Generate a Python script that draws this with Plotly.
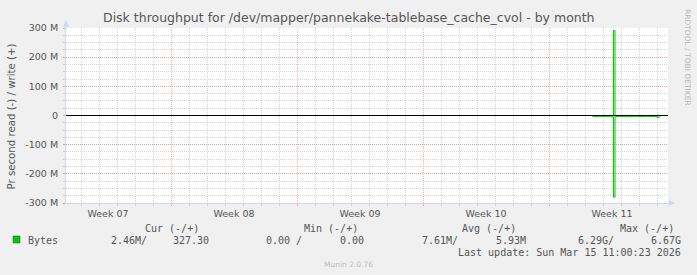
import plotly.graph_objects as go

# ---------------- data ----------------
TITLE = "Disk throughput for /dev/mapper/pannekake-tablebase_cache_cvol - by month"
Y_TITLE = "Pr second read (-) / write (+)"

times = [
    "2026-03-11 10:00", "2026-03-11 16:00", "2026-03-11 22:00", "2026-03-12 04:00",
    "2026-03-12 10:00", "2026-03-12 14:00", "2026-03-12 16:00", "2026-03-12 22:00",
    "2026-03-13 04:00", "2026-03-13 10:00", "2026-03-13 16:00", "2026-03-13 22:00",
    "2026-03-14 04:00", "2026-03-14 10:00", "2026-03-14 16:00", "2026-03-14 22:00",
    "2026-03-15 00:00", "2026-03-15 02:00", "2026-03-15 04:00",
]
# read (plotted negative) and write (positive), bytes per second
read_bps = [
    -3.6e6, -3.9e6, -3.4e6, -3.8e6,
    -4.0e6, -280e6, -3.7e6, -3.5e6,
    -3.9e6, -3.6e6, -3.8e6, -3.4e6,
    -3.7e6, -3.9e6, -3.5e6, -3.6e6,
    -7.5e6, -4.2e6, -3.0e6,
]
write_bps = [
    0.2e6, 0.1e6, 0.3e6, 0.2e6,
    0.1e6, 292e6, 0.2e6, 0.1e6,
    0.2e6, 0.3e6, 0.1e6, 0.2e6,
    0.1e6, 0.2e6, 0.3e6, 0.1e6,
    0.2e6, 0.1e6, 0.0,
]

y_tick_vals = [-300e6, -200e6, -100e6, 0, 100e6, 200e6, 300e6]
y_tick_text = ["-300 M", "-200 M", "-100 M", "0", "100 M", "200 M", "300 M"]

week_tick_vals = ["2026-02-12 12:00", "2026-02-19 12:00", "2026-02-26 12:00",
                  "2026-03-05 12:00", "2026-03-12 12:00"]
week_tick_text = ["Week 07", "Week 08", "Week 09", "Week 10", "Week 11"]

x_range = ["2026-02-10 04:00", "2026-03-15 14:40"]
week_start = "2026-02-09"

series_name = "Bytes"
legend_headers = ["Cur (-/+)", "Min (-/+)", "Avg (-/+)", "Max (-/+)"]
legend_values = ["2.46M/", "327.30", "0.00 /", "0.00", "7.61M/", "5.93M", "6.29G/", "6.67G"]
last_update = "Last update: Sun Mar 15 11:00:23 2026"
footer = "Munin 2.0.76"
side_text = "RRDTOOL / TOBI OETIKER"

# ---------------- layout geometry ----------------
W, H = 697, 275
L, R, T, B = 66, 29, 28, 72
PW, PH = W - L - R, H - T - B


def px(x):
    return (x - L) / PW


def py(y):
    return (H - B - y) / PH


GREEN = "#00cc00"
AXIS = "#CFD6F8"
FONT_C = "#555555"
MINOR = "rgba(150,150,150,0.38)"
MAJOR = "rgba(225,110,110,0.48)"

fig = go.Figure()
fig.add_trace(go.Scatter(x=times, y=read_bps, mode="lines", line=dict(color=GREEN, width=1, shape="hv"),
                         hoverinfo="skip", showlegend=False))
fig.add_trace(go.Scatter(x=times, y=write_bps, mode="lines", line=dict(color=GREEN, width=1, shape="hv"),
                         hoverinfo="skip", showlegend=False, xaxis="x2"))

fig.update_layout(
    width=W, height=H,
    margin=dict(l=L, r=R, t=T, b=B, pad=0),
    paper_bgcolor="#F0F0F0", plot_bgcolor="#FFFFFF",
    font=dict(family="DejaVu Sans", color=FONT_C, size=9.5),
    showlegend=False,
    xaxis=dict(
        type="date", range=x_range, tick0=week_start, dtick=7 * 86400000,
        showticklabels=False, ticks="outside", ticklen=2, tickcolor=MAJOR, tickwidth=1,
        showgrid=True, gridcolor=MAJOR, griddash="1px,1px", gridwidth=1,
        minor=dict(tick0=week_start, dtick=86400000, showgrid=True, gridcolor=MINOR,
                   griddash="1px,1px", gridwidth=1, ticks="outside", ticklen=2, tickcolor=MINOR),
        showline=True, linecolor=AXIS, linewidth=1, zeroline=False, fixedrange=True,
    ),
    xaxis2=dict(
        type="date", range=x_range, overlaying="x", anchor="y", side="bottom",
        tickmode="array", tickvals=week_tick_vals, ticktext=week_tick_text,
        showgrid=False, ticks="", showline=False, zeroline=False,
        tickfont=dict(size=9.5, color=FONT_C), ticklabelstandoff=3, fixedrange=True,
    ),
    yaxis=dict(
        range=[-300e6, 300e6], tickmode="array", tickvals=y_tick_vals, ticktext=y_tick_text,
        showgrid=True, gridcolor=MAJOR, griddash="1px,1px", gridwidth=1,
        minor=dict(dtick=25e6, tick0=0, showgrid=True, gridcolor=MINOR, griddash="1px,1px",
                   gridwidth=1, ticks="outside", ticklen=2, tickcolor=MINOR),
        ticks="outside", ticklen=2, tickcolor=MAJOR, tickwidth=1,
        ticklabelstandoff=3, tickfont=dict(size=9.5, color=FONT_C),
        showline=True, linecolor=AXIS, linewidth=1, zeroline=False, fixedrange=True,
    ),
)

shapes = [
    # zero line
    dict(type="line", xref="paper", x0=0, x1=1, yref="y", y0=0, y1=0,
         line=dict(color="black", width=1), layer="above"),
    # arrows of the axes
    dict(type="path", xref="paper", yref="paper",
         path=f"M {px(63)} {py(27)} L {px(66)} {py(20)} L {px(69)} {py(27)} Z",
         fillcolor=AXIS, line=dict(width=0)),
    dict(type="line", xref="paper", yref="paper", x0=px(66), x1=px(66), y0=py(28), y1=py(22),
         line=dict(color=AXIS, width=1)),
    dict(type="path", xref="paper", yref="paper",
         path=f"M {px(669)} {py(200)} L {px(675)} {py(203)} L {px(669)} {py(206)} Z",
         fillcolor=AXIS, line=dict(width=0)),
    dict(type="line", xref="paper", yref="paper", x0=px(668), x1=px(671), y0=py(203), y1=py(203),
         line=dict(color=AXIS, width=1)),
    # legend swatch
    dict(type="rect", xref="paper", yref="paper", x0=px(13), x1=px(20), y0=py(236), y1=py(243),
         fillcolor=GREEN, line=dict(color="#444444", width=0.5)),
]
fig.update_layout(shapes=shapes)

MONO = "DejaVu Sans Mono"
ann = []


def text(s, x, y, xanchor="left", size=10, color=FONT_C, family=MONO, angle=0):
    ann.append(dict(text=s, x=px(x), y=py(y), xref="paper", yref="paper", showarrow=False,
                    xanchor=xanchor, yanchor="middle", textangle=angle,
                    font=dict(family=family, size=size, color=color)))


text(TITLE, 349, 18, xanchor="center", size=12.5, family="DejaVu Sans")
text(Y_TITLE, 10.5, 117, xanchor="center", size=10.2, family="DejaVu Sans", angle=-90)
text(side_text, 688, 57, xanchor="center", size=7.5, color="#B8B8B8", family="DejaVu Sans", angle=90)

header_right = [201, 360, 518, 676]
for h, xr in zip(legend_headers, header_right):
    text(h, xr, 228, xanchor="right")
text(series_name, 26, 240)
value_right = [149, 211, 304, 366, 460, 528, 616, 683]
for v, xr in zip(legend_values, value_right):
    text(v, xr, 240, xanchor="right")
text(last_update, 683, 252, xanchor="right")
text(footer, 348, 264, xanchor="center", size=7.5, color="#BBBBBB", family="DejaVu Sans")

fig.update_layout(annotations=ann)
fig.write_html("out.html")
